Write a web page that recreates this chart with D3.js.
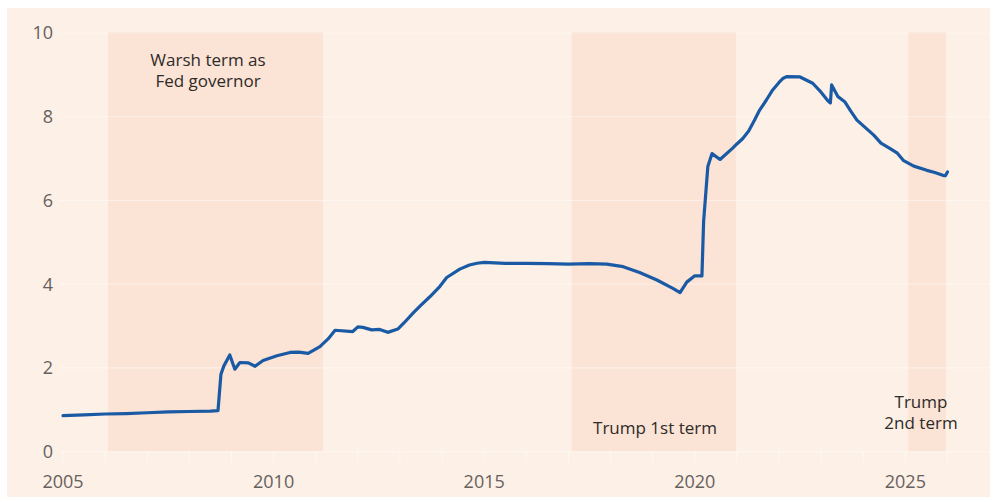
<!DOCTYPE html>
<html>
<head>
<meta charset="utf-8">
<script src="https://cdn.jsdelivr.net/npm/d3@7"></script>
<style>
  html, body { margin: 0; padding: 0; background: #ffffff; }
  svg { display: block; }
  text { font-family: "Open Sans", "Noto Sans", sans-serif; }
</style>
</head>
<body>
<svg id="chart" width="997" height="502"></svg>
<script>
// ---- Data (Fed total assets, $tn) ----
const years = [2005.0, 2005.5, 2006.0, 2006.5, 2007.0, 2007.5, 2008.0, 2008.5, 2008.68, 2008.75, 2008.82, 2008.96,
  2009.08, 2009.2, 2009.4, 2009.56, 2009.75, 2010.08, 2010.39, 2010.6, 2010.82, 2011.1, 2011.3, 2011.46, 2011.88,
  2012.0, 2012.12, 2012.33, 2012.52, 2012.71, 2012.95, 2013.1, 2013.31, 2013.5, 2013.71, 2013.95, 2014.11, 2014.42, 2014.65, 2014.83, 2015.0, 2015.5,
  2016.0, 2016.5, 2017.0, 2017.5, 2017.91, 2018.3, 2018.69, 2019.1, 2019.48, 2019.65, 2019.81, 2020.0, 2020.17,
  2020.21, 2020.31, 2020.41, 2020.6, 2020.9, 2021.0, 2021.14, 2021.28, 2021.42, 2021.54, 2021.7, 2021.85, 2022.0, 2022.1, 2022.19, 2022.5, 2022.8, 2022.97,
  2023.16, 2023.22, 2023.25, 2023.4, 2023.56, 2023.7, 2023.85, 2024.05, 2024.25, 2024.42, 2024.62, 2024.81, 2024.96, 2025.2, 2025.51, 2025.7, 2025.89,
  2025.95, 2026.0];
const values = [0.86, 0.88, 0.90, 0.91, 0.93, 0.95, 0.96, 0.97, 0.98, 1.85, 2.05, 2.31,
  1.97, 2.13, 2.12, 2.04, 2.18, 2.29, 2.37, 2.38, 2.35, 2.51, 2.70, 2.90, 2.87,
  2.98, 2.97, 2.91, 2.92, 2.85, 2.93, 3.08, 3.31, 3.50, 3.70, 3.95, 4.16, 4.36, 4.46, 4.50, 4.52, 4.50,
  4.50, 4.49, 4.48, 4.49, 4.48, 4.42, 4.28, 4.10, 3.90, 3.80, 4.05, 4.20, 4.20,
  5.50, 6.81, 7.12, 6.98, 7.25, 7.35, 7.48, 7.66, 7.92, 8.16, 8.40, 8.64, 8.82, 8.92, 8.96, 8.95, 8.80, 8.62,
  8.38, 8.33, 8.76, 8.48, 8.36, 8.14, 7.92, 7.74, 7.56, 7.37, 7.25, 7.13, 6.95, 6.82, 6.72, 6.67, 6.60,
  6.59, 6.68];

const yTicks = [0, 2, 4, 6, 8, 10];
const xTickLabels = [2005, 2010, 2015, 2020, 2025];
const xMinorTicks = d3.range(2005, 2027, 1);

const periodNames = [["Warsh term as", "Fed governor"], ["Trump 1st term"], ["Trump", "2nd term"]];
const periodStart = [2006.07, 2017.08, 2025.07];
const periodEnd = [2011.17, 2020.98, 2025.96];

// ---- Layout ----
const svg = d3.select("#chart");
const bg = { x: 7, y: 8, w: 983, h: 489 };
const x = d3.scaleLinear().domain([2005, 2027]).range([63, 989.6]);
const y = d3.scaleLinear().domain([0, 10]).range([451.7, 33]);

svg.append("rect").attr("x", bg.x).attr("y", bg.y).attr("width", bg.w).attr("height", bg.h)
  .attr("fill", "#fdf0e6");

// shaded periods
const shadeG = svg.append("g");
periodStart.forEach((s, i) => {
  shadeG.append("rect")
    .attr("x", x(s)).attr("y", y(10) - 1)
    .attr("width", x(periodEnd[i]) - x(s))
    .attr("height", y(0) - y(10) + 1)
    .attr("fill", "#fbe3d5");
});

// gridlines
svg.append("g").selectAll("line").data(yTicks).join("line")
  .attr("x1", 60).attr("x2", bg.x + bg.w)
  .attr("y1", d => y(d)).attr("y2", d => y(d))
  .attr("stroke", "#ffffff").attr("stroke-opacity", 0.45).attr("stroke-width", 1.2);

// minor x ticks
svg.append("g").selectAll("line").data(xMinorTicks).join("line")
  .attr("x1", d => x(d)).attr("x2", d => x(d))
  .attr("y1", y(0)).attr("y2", y(0) + 11)
  .attr("stroke", "#ffffff").attr("stroke-opacity", 0.55).attr("stroke-width", 1);

// y labels
svg.append("g").selectAll("text").data(yTicks).join("text")
  .attr("x", 53).attr("y", d => y(d)).attr("dy", "0.35em")
  .attr("text-anchor", "end").attr("font-size", 18).attr("fill", "#66615e")
  .text(d => d);

// x labels
svg.append("g").selectAll("text").data(xTickLabels).join("text")
  .attr("x", d => x(d)).attr("y", 482).attr("dy", "0.35em")
  .attr("text-anchor", "middle").attr("font-size", 18).attr("fill", "#66615e")
  .text(d => d);

// line
const data = years.map((t, i) => [t, values[i]]);
svg.append("path").datum(data)
  .attr("fill", "none").attr("stroke", "#1a5aa5").attr("stroke-width", 3.2)
  .attr("stroke-linejoin", "round").attr("stroke-linecap", "round")
  .attr("d", d3.line().x(d => x(d[0])).y(d => y(d[1])));

// annotations
const annot = svg.append("g").attr("font-size", 17).attr("fill", "#2e2b29").attr("text-anchor", "middle");
const annotPos = [
  { cx: 208, y0: 60 },
  { cx: 655, y0: 428 },
  { cx: 921, y0: 402 }
];
periodNames.forEach((lines, i) => {
  const t = annot.append("text").attr("x", annotPos[i].cx).attr("y", annotPos[i].y0).attr("dy", "0.35em");
  lines.forEach((ln, j) => {
    t.append("tspan").attr("x", annotPos[i].cx).attr("dy", j === 0 ? "0.35em" : "1.25em").text(ln);
  });
});
</script>
</body>
</html>
